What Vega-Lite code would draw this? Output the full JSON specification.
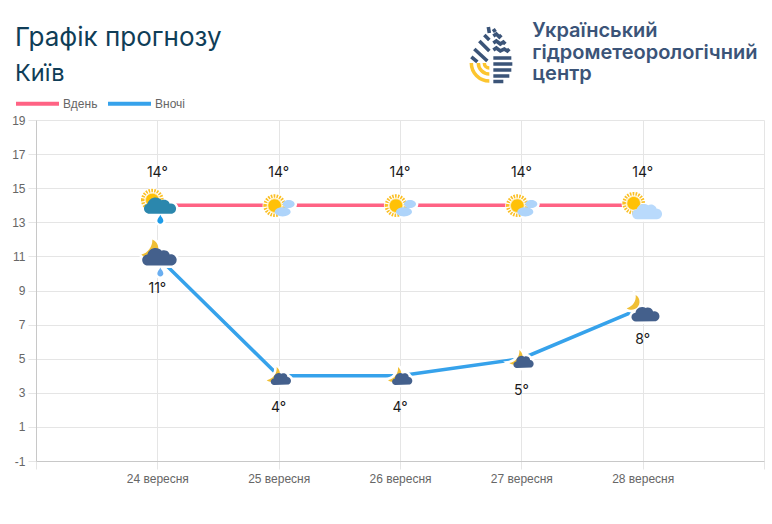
{
  "$schema": "https://vega.github.io/schema/vega-lite/v6.json",
  "width": 728,
  "height": 341,
  "autosize": "none",
  "padding": {"left": 36, "top": 120, "right": 8, "bottom": 63},
  "background": "white",
  "config": {
    "view": {"stroke": null},
    "font": "Liberation Sans"
  },
  "title": {
    "text": "Графік прогнозу",
    "subtitle": "Київ",
    "anchor": "start",
    "frame": "group",
    "dx": -21,
    "offset": -66,
    "font": "Inter",
    "fontSize": 26,
    "fontWeight": 400,
    "color": "#0f3d57",
    "subtitleFont": "Inter",
    "subtitleFontSize": 23.5,
    "subtitleFontWeight": 400,
    "subtitleColor": "#0f3d57",
    "subtitlePadding": 11
  },
  "datasets": {
    "temps": [
      {"date": "24 вересня", "period": "Вдень", "temp": 14, "label": "14°"},
      {"date": "25 вересня", "period": "Вдень", "temp": 14, "label": "14°"},
      {"date": "26 вересня", "period": "Вдень", "temp": 14, "label": "14°"},
      {"date": "27 вересня", "period": "Вдень", "temp": 14, "label": "14°"},
      {"date": "28 вересня", "period": "Вдень", "temp": 14, "label": "14°"},
      {"date": "24 вересня", "period": "Вночі", "temp": 11, "label": "11°"},
      {"date": "25 вересня", "period": "Вночі", "temp": 4, "label": "4°"},
      {"date": "26 вересня", "period": "Вночі", "temp": 4, "label": "4°"},
      {"date": "27 вересня", "period": "Вночі", "temp": 5, "label": "5°"},
      {"date": "28 вересня", "period": "Вночі", "temp": 8, "label": "8°"}
    ],
    "icons": [
      {"date": "24 вересня", "temp": 14, "part": "rays A"},
      {"date": "24 вересня", "temp": 14, "part": "sun A"},
      {"date": "24 вересня", "temp": 14, "part": "rain cloud"},
      {"date": "24 вересня", "temp": 14, "part": "rain drop"},
      {"date": "25 вересня", "temp": 14, "part": "rays B"},
      {"date": "25 вересня", "temp": 14, "part": "sun B"},
      {"date": "25 вересня", "temp": 14, "part": "small clouds"},
      {"date": "26 вересня", "temp": 14, "part": "rays B"},
      {"date": "26 вересня", "temp": 14, "part": "sun B"},
      {"date": "26 вересня", "temp": 14, "part": "small clouds"},
      {"date": "27 вересня", "temp": 14, "part": "rays B"},
      {"date": "27 вересня", "temp": 14, "part": "sun B"},
      {"date": "27 вересня", "temp": 14, "part": "small clouds"},
      {"date": "28 вересня", "temp": 14, "part": "rays C"},
      {"date": "28 вересня", "temp": 14, "part": "sun C"},
      {"date": "28 вересня", "temp": 14, "part": "large cloud"},
      {"date": "24 вересня", "temp": 11, "part": "moon D"},
      {"date": "24 вересня", "temp": 11, "part": "night rain cloud"},
      {"date": "24 вересня", "temp": 11, "part": "night drop"},
      {"date": "25 вересня", "temp": 4, "part": "moon E"},
      {"date": "25 вересня", "temp": 4, "part": "night cloud E"},
      {"date": "26 вересня", "temp": 4, "part": "moon E"},
      {"date": "26 вересня", "temp": 4, "part": "night cloud E"},
      {"date": "27 вересня", "temp": 5, "part": "moon E"},
      {"date": "27 вересня", "temp": 5, "part": "night cloud E"},
      {"date": "28 вересня", "temp": 8, "part": "moon F"},
      {"date": "28 вересня", "temp": 8, "part": "night cloud F"}
    ]
  },
  "data": {"name": "temps"},
  "layer": [
    {
      "mark": {"type": "line", "strokeWidth": 3.5},
      "encoding": {
        "x": {
          "field": "date",
          "type": "nominal",
          "sort": null,
          "scale": {
            "type": "point",
            "padding": 0,
            "domain": ["", "24 вересня", "25 вересня", "26 вересня", "27 вересня", "28 вересня", " "]
          },
          "axis": {
            "title": null,
            "labelAngle": 0,
            "labelFontSize": 12,
            "labelColor": "#666666",
            "labelPadding": 4,
            "tickSize": 8,
            "tickColor": "#e5e5e5",
            "domainColor": "#c8c8c8",
            "grid": true,
            "gridColor": "#e5e5e5"
          }
        },
        "y": {
          "field": "temp",
          "type": "quantitative",
          "scale": {"domain": [-1, 19], "nice": false},
          "axis": {
            "title": null,
            "values": [-1, 1, 3, 5, 7, 9, 11, 13, 15, 17, 19],
            "tickCount": 11,
            "labelExpr": "'' + datum.value",
            "labelFontSize": 12,
            "labelColor": "#666666",
            "labelPadding": 3,
            "tickSize": 8,
            "tickColor": "#e5e5e5",
            "domainColor": "#c8c8c8",
            "grid": true,
            "gridColor": "#e5e5e5"
          }
        },
        "color": {
          "field": "period",
          "type": "nominal",
          "scale": {"domain": ["Вдень", "Вночі"], "range": ["#ff6384", "#36a2eb"]},
          "legend": {
            "title": null,
            "orient": "none",
            "legendX": -22,
            "legendY": -40,
            "direction": "horizontal",
            "symbolType": "stroke",
            "symbolSize": 1849,
            "symbolStrokeWidth": 4,
            "labelFontSize": 12,
            "labelColor": "#666666",
            "labelOffset": 2,
            "columnPadding": 2
          }
        }
      }
    },
    {
      "data": {"name": "icons"},
      "mark": {"type": "point", "filled": true, "size": 1600, "fill": "white", "stroke": "white", "strokeWidth": 5, "opacity": 1},
      "encoding": {
        "x": {"field": "date", "type": "nominal", "title": null},
        "y": {"field": "temp", "type": "quantitative", "title": null},
        "shape": {"field": "part", "type": "nominal", "legend": null,
          "scale": {
            "domain": ["rays A", "sun A", "rain cloud", "rain drop", "rays B", "sun B", "small clouds", "rays C", "sun C", "large cloud", "moon D", "night rain cloud", "night drop", "moon E", "night cloud E", "moon F", "night cloud F"],
            "range": [
              "M-.73 -.26 A.48 .48 0 1 1 .23 -.26 A.48 .48 0 1 1 -.73 -.26 Z",
              "M-.59 -.26 A.34 .34 0 1 1 .09 -.26 A.34 .34 0 1 1 -.59 -.26 Z",
              "M-.45 .42 A.26 .26 0 0 1 -.5 -.08 A.42 .42 0 0 1 .22 -.25 A.3 .3 0 0 1 .62 -.08 A.25 .25 0 0 1 .74 .42 Z",
              "M.15 .47 C.1 .6 0 .65 0 .77 A.15 .15 0 0 0 .3 .77 C.3 .65 .2 .6 .15 .47 Z",
              "M-.68 .02 A.48 .48 0 1 1 .28 .02 A.48 .48 0 1 1 -.68 .02 Z",
              "M-.54 .02 A.34 .34 0 1 1 .14 .02 A.34 .34 0 1 1 -.54 .02 Z",
              "M.2 -.06 A.3 .2 0 1 1 .8 -.06 A.3 .2 0 1 1 .2 -.06 Z M-.2 .33 A.4 .23 0 1 1 .6 .33 A.4 .23 0 1 1 -.2 .33 Z",
              "M-.93 -.1 A.48 .48 0 1 1 .03 -.1 A.48 .48 0 1 1 -.93 -.1 Z",
              "M-.79 -.1 A.34 .34 0 1 1 -.11 -.1 A.34 .34 0 1 1 -.79 -.1 Z",
              "M-.25 .7 A.25 .25 0 0 1 -.3 .2 A.38 .38 0 0 1 .28 0 A.3 .3 0 0 1 .7 .18 A.26 .26 0 0 1 .72 .7 Z",
              "M-.25 -.84 A.48 .48 0 1 1 -.8 -.09 A.75 .75 0 0 0 -.25 -.84 Z",
              "M-.45 .46 A.28 .28 0 0 1 -.5 -.1 A.42 .42 0 0 1 .22 -.28 A.3 .3 0 0 1 .62 -.1 A.28 .28 0 0 1 .74 .46 Z",
              "M.15 .55 C.1 .68 0 .73 0 .85 A.15 .15 0 0 0 .3 .85 C.3 .73 .2 .68 .15 .55 Z",
              "M-.1 -.44 A.38 .38 0 1 1 -.6 .22 A.6 .6 0 0 0 -.1 -.44 Z",
              "M-.22 .46 A.16 .16 0 0 1 -.25 .14 A.26 .26 0 0 1 .15 -.1 A.2 .2 0 0 1 .44 .06 A.2 .2 0 0 1 .5 .44 Z",
              "M-.35 -.63 A.4 .4 0 1 1 -.8 .03 A.6 .6 0 0 0 -.35 -.63 Z",
              "M-.32 .7 A.22 .22 0 0 1 -.36 .26 A.34 .34 0 0 1 .16 .02 A.26 .26 0 0 1 .52 .2 A.24 .24 0 0 1 .66 .68 Z"
            ]
          }
        }
      }
    },
    {
      "data": {"name": "icons"},
      "transform": [{"filter": "indexof(['rays A', 'rays B', 'rays C'], datum.part) >= 0"}],
      "mark": {"type": "point", "filled": false, "size": 1600, "stroke": "#fbbf24", "strokeWidth": 3.5, "strokeDash": [1.6, 1.2], "opacity": 1},
      "encoding": {
        "x": {"field": "date", "type": "nominal", "title": null},
        "y": {"field": "temp", "type": "quantitative", "title": null},
        "shape": {"field": "part", "type": "nominal", "legend": null}
      }
    },
    {
      "data": {"name": "icons"},
      "transform": [{"filter": "indexof(['sun A', 'sun B', 'sun C'], datum.part) >= 0"}],
      "mark": {"type": "point", "filled": true, "size": 1600, "fill": "#ffc107", "stroke": "#ffe9a8", "strokeWidth": 1, "opacity": 1},
      "encoding": {
        "x": {"field": "date", "type": "nominal", "title": null},
        "y": {"field": "temp", "type": "quantitative", "title": null},
        "shape": {"field": "part", "type": "nominal", "legend": null}
      }
    },
    {
      "data": {"name": "icons"},
      "transform": [{"filter": "indexof(['rays A', 'rays B', 'rays C', 'sun A', 'sun B', 'sun C'], datum.part) < 0"}],
      "mark": {"type": "point", "filled": true, "size": 1600, "opacity": 1},
      "encoding": {
        "x": {"field": "date", "type": "nominal", "title": null},
        "y": {"field": "temp", "type": "quantitative", "title": null},
        "shape": {"field": "part", "type": "nominal", "legend": null},
        "fill": {
          "field": "part",
          "type": "nominal",
          "legend": null,
          "scale": {
            "domain": ["rain cloud", "rain drop", "small clouds", "large cloud", "moon D", "night rain cloud", "night drop", "moon E", "night cloud E", "moon F", "night cloud F"],
            "range": ["#2b87ad", "#1c9be8", "#aed4fa", "#b9dafc", "#f0bf35", "#44608c", "#6aaef0", "#f0bf35", "#44608c", "#f0bf35", "#44608c"]
          }
        }
      }
    },
    {
      "transform": [{"filter": "datum.period === 'Вдень'"}],
      "mark": {"type": "text", "dy": -32, "font": "Inter", "fontSize": 14, "color": "#1a1a1a"},
      "encoding": {
        "x": {"field": "date", "type": "nominal", "title": null},
        "y": {"field": "temp", "type": "quantitative", "title": null},
        "text": {"field": "label"}
      }
    },
    {
      "transform": [{"filter": "datum.period === 'Вночі'"}],
      "mark": {"type": "text", "dy": 32.5, "font": "Inter", "fontSize": 14, "color": "#1a1a1a"},
      "encoding": {
        "x": {"field": "date", "type": "nominal", "title": null},
        "y": {"field": "temp", "type": "quantitative", "title": null},
        "text": {"field": "label"}
      }
    },
    {
      "data": {"values": [{"part": "logo stripes"}]},
      "mark": {
        "type": "point",
        "filled": false,
        "size": 4,
        "stroke": "#3b5478",
        "strokeWidth": 3.6,
        "opacity": 1,
        "shape": "M-33 -25 L-32 -19 M-37 -17 L-32 -12 M-42 -11 L-32 -1 M-47 -3 L-34 9 M-50 5 L-44 10 M-28 -23 L-26 -20 M-28 -16 L-25 -18 L-22 -15 L-20 -17 M-28 -9 L-25 -11 L-21 -8 L-18 -10 L-16 -8 M-28 -2 L-25 -4 L-21 -1 L-17 -3 L-14 -1 L-12 -3 M-28 6 L-10 6 M-28 12 L-9 12 M-28 18 L-10 18 M-28 24 L-12 24 M-28 29.5 L-18 29.5"
      },
      "encoding": {
        "x": {"datum": "27 вересня", "title": null},
        "y": {"datum": 22.99, "title": null}
      }
    },
    {
      "data": {"values": [{"part": "logo arcs"}]},
      "mark": {
        "type": "point",
        "filled": false,
        "size": 4,
        "stroke": "#fcc52f",
        "strokeWidth": 3.5,
        "opacity": 1,
        "shape": "M-50 11 A18 18 0 0 0 -32 29 M-43 11 A11 11 0 0 0 -32 22 M-37 11 A5 5 0 0 0 -32 16"
      },
      "encoding": {
        "x": {"datum": "27 вересня", "title": null},
        "y": {"datum": 22.99, "title": null}
      }
    },
    {
      "data": {"values": [{"name": "Український\nгідрометеорологічний\nцентр"}]},
      "mark": {
        "type": "text",
        "align": "left",
        "baseline": "middle",
        "dx": 11,
        "dy": -20.5,
        "font": "Inter",
        "fontSize": 20,
        "fontWeight": 600,
        "color": "#3b5478",
        "lineBreak": "\n",
        "lineHeight": 21.5
      },
      "encoding": {
        "x": {"datum": "27 вересня", "title": null},
        "y": {"datum": 22.99, "title": null},
        "text": {"field": "name"}
      }
    }
  ]
}
